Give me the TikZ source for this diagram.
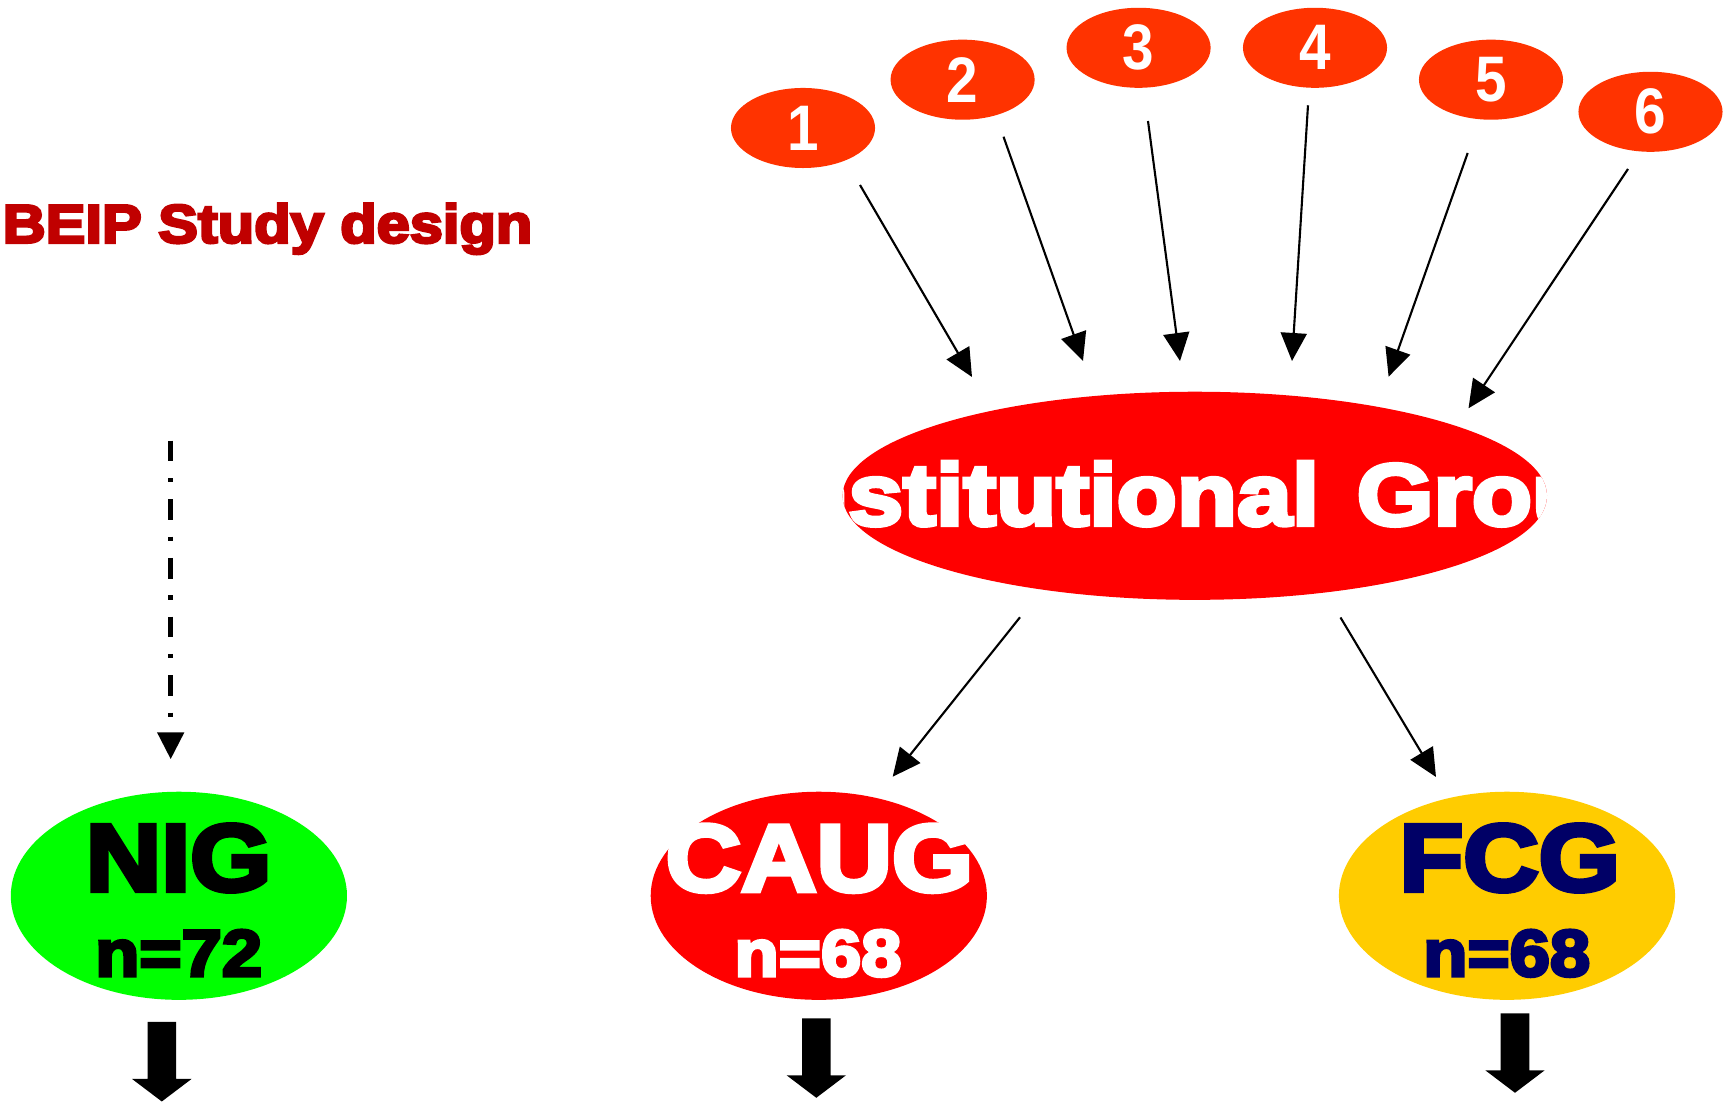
\documentclass[tikz,border=0pt]{standalone}
\usepackage{fontspec}
\setmainfont{Liberation Sans}
\newfontfamily\heavyfont[FakeBold=5,FakeStretch=1.1]{Liberation Sans Bold}
\newfontfamily\instfont[FakeBold=5,FakeStretch=1.13]{Liberation Sans Bold}
\newfontfamily\digitfont[FakeStretch=0.88]{Liberation Sans Bold}
\newcommand\instspacing{\spaceskip=10.7pt\relax}
\usetikzlibrary{shapes.geometric,arrows.meta}

\definecolor{titlered}{RGB}{192,0,0}
\definecolor{siteorange}{RGB}{255,51,0}
\definecolor{groupred}{RGB}{255,0,0}
\definecolor{niggreen}{RGB}{0,255,0}
\definecolor{fcgyellow}{RGB}{255,204,0}
\definecolor{fcgnavy}{RGB}{0,0,102}

\tikzset{
  site/.style={ellipse, fill=siteorange, minimum width=1.44cm, minimum height=0.80cm,
    inner sep=0pt, text=white, font=\digitfont\fontsize{18.3}{20}\selectfont},
  group/.style={ellipse, minimum width=3.36cm, minimum height=2.08cm, inner sep=0pt},
  grouplabel/.style={inner sep=0pt, anchor=base, font=\heavyfont\fontsize{27}{32}\selectfont},
  countlabel/.style={inner sep=0pt, anchor=base, font=\heavyfont\fontsize{18.7}{22}\selectfont},
  thinarrow/.style={line width=0.6pt, -{Triangle[length=0.28cm,width=0.26cm]}},
  dotarrow/.style={line width=0.05cm,
    dash pattern=on 0.206cm off 0.167cm on 0.043cm off 0.17cm,
    -{Triangle[length=0.27cm,width=0.26cm]}},
  pics/downarrow/.style={code={
    \fill (-14.3,0) -- (14.3,0) -- (14.3,57) -- (29.7,57) -- (0,79.5)
          -- (-29.7,57) -- (-14.3,57) -- cycle;}}
}

\begin{document}
\begin{tikzpicture}[x=0.01cm,y=-0.01cm]
\useasboundingbox (0,0) rectangle (1729,1104);

% heading
\node[anchor=base west, inner sep=0pt, text=titlered,
      font=\heavyfont\fontsize{15.4}{18}\selectfont] (title) at (2,242.7) {BEIP Study design};

% the six sites
\node[site] (s1) at (803,128)    {1};
\node[site] (s2) at (962.6,79.7) {2};
\node[site] (s3) at (1138.6,47.8) {3};
\node[site] (s4) at (1315,47.8)  {4};
\node[site] (s5) at (1491,79.7)  {5};
\node[site] (s6) at (1650.5,111.8) {6};

% institutional group
\node[group, fill=groupred, minimum width=7.04cm] (inst) at (1194.8,495.8) {};
\begin{scope}
  \clip (inst.center) ellipse [x radius=3.52cm, y radius=1.04cm];
  \node[grouplabel, font=\instfont\fontsize{24.8}{30}\selectfont\instspacing, text=white]
    (insttext) at (1206.6,525) {Institutional Group};
\end{scope}

% study groups
\node[group, fill=niggreen]  (nig)  at (178.9,895.8) {};
\node[group, fill=groupred]  (caug) at (818.8,895.8) {};
\node[group, fill=fcgyellow] (fcg)  at (1507,895.8) {};

\node[grouplabel] (nigname) at (178.6,890.7) {NIG};
\node[countlabel] (nign) at (178.6,976) {n=72};
\node[grouplabel, text=white] (caugname) at (819.5,891) {CAUG};
\node[countlabel, text=white] (caugn) at (818,976) {n=68};
\node[grouplabel, text=fcgnavy] (fcgname) at (1509.7,890.7) {FCG};
\node[countlabel, text=fcgnavy] (fcgn) at (1506.7,976) {n=68};

% arrow ends
\coordinate (a1s) at (860,185);     \coordinate (a1e) at (972,377);
\coordinate (a2s) at (1003.5,136.7); \coordinate (a2e) at (1083,361);
\coordinate (a3s) at (1148,121);    \coordinate (a3e) at (1180,361);
\coordinate (a4s) at (1308,105.3);  \coordinate (a4e) at (1292,361);
\coordinate (a5s) at (1467.7,153);  \coordinate (a5e) at (1388.6,376.7);
\coordinate (a6s) at (1628,169);    \coordinate (a6e) at (1468.5,408.3);
\coordinate (b1s) at (1020,617.3);  \coordinate (b1e) at (892.7,776.7);
\coordinate (b2s) at (1340.5,617.5); \coordinate (b2e) at (1436,777);
\coordinate (ds) at (170.7,440.7);  \coordinate (de) at (170.7,759.3);

\draw[thinarrow] (a1s) -- (a1e);
\draw[thinarrow] (a2s) -- (a2e);
\draw[thinarrow] (a3s) -- (a3e);
\draw[thinarrow] (a4s) -- (a4e);
\draw[thinarrow] (a5s) -- (a5e);
\draw[thinarrow] (a6s) -- (a6e);
\draw[thinarrow] (b1s) -- (b1e);
\draw[thinarrow] (b2s) -- (b2e);
\draw[dotarrow] (ds) -- (de);

% outgoing block arrows
\coordinate (nigdown)  at (161.8,1022);
\coordinate (caugdown) at (816.3,1018.3);
\coordinate (fcgdown)  at (1515,1013.3);
\pic at (nigdown)  {downarrow};
\pic at (caugdown) {downarrow};
\pic at (fcgdown)  {downarrow};
\end{tikzpicture}
\end{document}
